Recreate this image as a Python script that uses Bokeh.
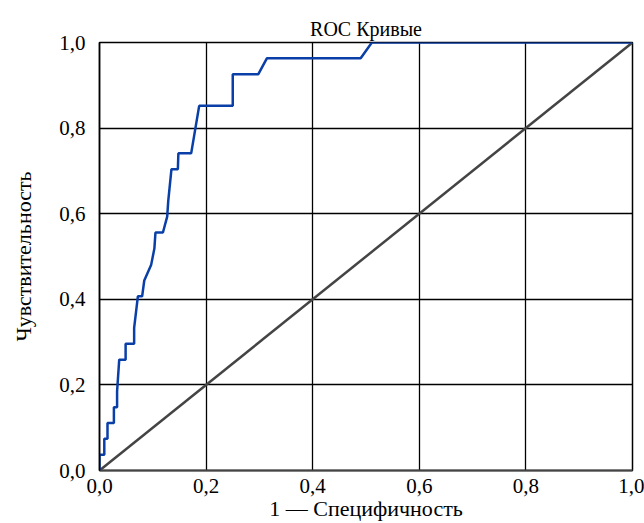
from bokeh.plotting import figure
from bokeh.models import Range1d, CustomJSTickFormatter, FixedTicker
from bokeh.embed import file_html
from bokeh.resources import INLINE

# ROC curve points (1 - specificity, sensitivity)
fpr = [0.0, 0.0, 0.009, 0.009, 0.015, 0.015, 0.027, 0.027, 0.033, 0.033, 0.037,
       0.049, 0.049, 0.065, 0.065, 0.072, 0.080, 0.084, 0.097, 0.103, 0.105,
       0.119, 0.127, 0.129, 0.135, 0.147, 0.148, 0.172, 0.187, 0.250, 0.250,
       0.298, 0.314, 0.490, 0.511, 1.0]
tpr = [0.0, 0.037, 0.037, 0.074, 0.074, 0.111, 0.111, 0.148, 0.148, 0.185, 0.259,
       0.259, 0.296, 0.296, 0.333, 0.407, 0.407, 0.444, 0.481, 0.519, 0.556,
       0.556, 0.593, 0.630, 0.704, 0.704, 0.741, 0.741, 0.852, 0.852, 0.926,
       0.926, 0.963, 0.963, 1.0, 1.0]
diag_x = [0.0, 1.0]
diag_y = [0.0, 1.0]
ticks = [0.0, 0.2, 0.4, 0.6, 0.8, 1.0]

FONT = "'Liberation Serif', 'Times New Roman', serif"

p = figure(width=644, height=523, output_backend="svg", toolbar_location=None,
           x_range=Range1d(0, 1), y_range=Range1d(0, 1),
           min_border_left=99, min_border_right=12, min_border_top=42, min_border_bottom=52)

p.title.text = "ROC Кривые"
p.title.align = "center"
p.title.text_font = FONT
p.title.text_font_size = "20px"
p.title.text_font_style = "normal"
p.title.text_color = "black"
p.title.standoff = 6

p.line(diag_x, diag_y, line_color="#444444", line_width=2.5)
p.line(fpr, tpr, line_color="#0a3fa8", line_width=2.5)

fmt = CustomJSTickFormatter(code="return tick.toFixed(1).replace('.', ',');")
for ax in (p.xaxis[0], p.yaxis[0]):
    ax.ticker = FixedTicker(ticks=ticks)
    ax.formatter = fmt
    ax.major_tick_line_color = None
    ax.minor_tick_line_color = None
    ax.major_label_text_font = FONT
    ax.major_label_text_font_size = "21px"
    ax.major_label_text_color = "black"
    ax.axis_label_text_font = FONT
    ax.axis_label_text_font_size = "22px"
    ax.axis_label_text_font_style = "normal"
    ax.axis_label_text_color = "black"

p.xaxis.axis_label = "1 — Специфичность"
p.yaxis.axis_label = "Чувствительность"
p.xaxis.axis_line_color = "#444444"
p.xaxis.axis_line_width = 2
p.yaxis.axis_line_color = "black"
p.yaxis.axis_line_width = 1.5
p.xaxis.major_label_standoff = 2
p.yaxis.major_label_standoff = 8
p.xaxis.axis_label_standoff = 0
p.yaxis.axis_label_standoff = 20

p.xgrid.ticker = FixedTicker(ticks=ticks)
p.ygrid.ticker = FixedTicker(ticks=ticks)
p.grid.grid_line_color = "black"
p.grid.grid_line_width = 1.3
p.grid.grid_line_alpha = 1.0

p.outline_line_color = "black"
p.outline_line_width = 1.5
p.background_fill_color = "white"
p.border_fill_color = "white"

open("out.html", "w").write(file_html(p, INLINE))
